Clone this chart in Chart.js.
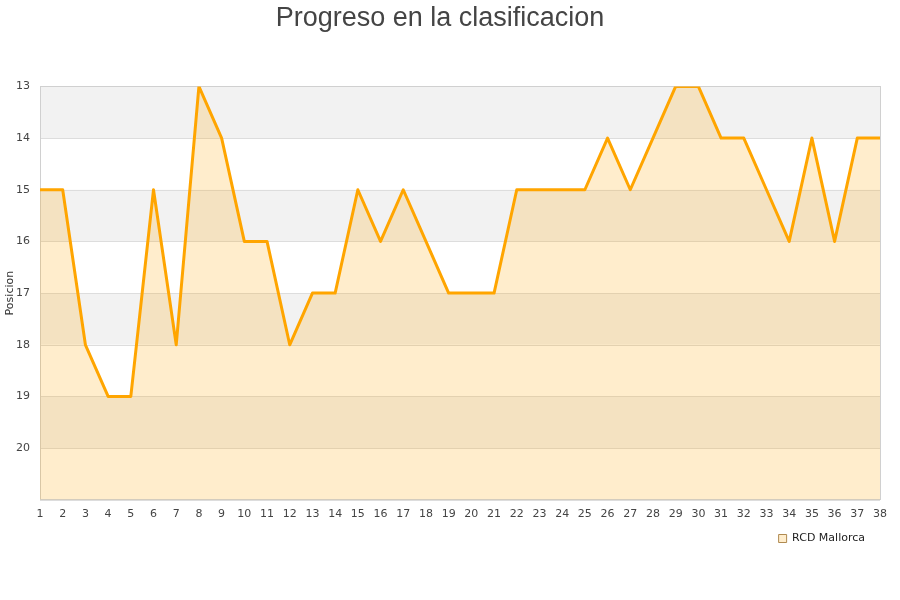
<!DOCTYPE html>
<html>
<head>
<meta charset="utf-8">
<script src="https://cdn.jsdelivr.net/npm/chart.js@4"></script>
<style>
html,body{margin:0;padding:0;background:#fff;}
#wrap{width:900px;height:600px;}
</style>
</head>
<body>
<div id="wrap"><canvas id="c" width="900" height="600"></canvas></div>
<script>
const rounds = ["1","2","3","4","5","6","7","8","9","10","11","12","13","14","15","16","17","18","19","20","21","22","23","24","25","26","27","28","29","30","31","32","33","34","35","36","37","38"];
const positions = [15,15,18,19,19,15,18,13,14,16,16,18,17,17,15,16,15,16,17,17,17,15,15,15,15,14,15,14,13,13,14,14,15,16,14,16,14,14];
const yMin = 13;
const yMax = 21;
const teamName = "RCD Mallorca";
const titleText = "Progreso en la clasificacion";
const yTitle = "Posicion";

const bandsPlugin = {
  id: 'bands',
  beforeDatasetsDraw(chart) {
    const {ctx, chartArea, scales} = chart;
    const y = scales.y;
    ctx.save();
    for (let v = yMin; v < yMax; v++) {
      const idx = v - yMin;
      const top = y.getPixelForValue(v);
      const bot = y.getPixelForValue(v + 1);
      ctx.fillStyle = (idx % 2 === 0) ? '#f2f2f2' : '#ffffff';
      ctx.fillRect(chartArea.left, top, chartArea.right - chartArea.left, bot - top);
    }
    ctx.strokeStyle = '#dddddd';
    ctx.lineWidth = 1;
    for (let v = yMin; v <= yMax; v++) {
      const py = Math.round(y.getPixelForValue(v)) + 0.5;
      ctx.beginPath();
      ctx.moveTo(chartArea.left, py);
      ctx.lineTo(chartArea.right, py);
      ctx.stroke();
    }
    ctx.strokeStyle = '#d0d0d0';
    ctx.strokeRect(Math.round(chartArea.left)+0.5, Math.round(chartArea.top)+0.5, Math.round(chartArea.right-chartArea.left), Math.round(chartArea.bottom-chartArea.top));
    ctx.restore();
  }
};

new Chart(document.getElementById('c'), {
  type: 'line',
  data: {
    labels: rounds,
    datasets: [{
      label: teamName,
      data: positions,
      borderColor: '#ffa500',
      backgroundColor: 'rgba(255,165,0,0.2)',
      borderWidth: 3,
      borderJoinStyle: 'round',
      pointRadius: 0,
      pointHoverRadius: 0,
      tension: 0,
      fill: {value: yMax}
    }]
  },
  options: {
    responsive: false,
    animation: false,
    devicePixelRatio: 1,
    layout: {padding: {left: 0, right: 20, top: 0, bottom: 46}},
    plugins: {
      title: {
        display: true,
        text: titleText,
        color: '#444444',
        font: {family: 'Liberation Sans', size: 27, weight: 'normal'},
        padding: {top: 2, bottom: 52}
      },
      legend: {
        position: 'bottom',
        align: 'end',
        labels: {
          boxWidth: 8,
          boxHeight: 8,
          padding: 15,
          color: '#222222',
          font: {family: 'DejaVu Sans', size: 11},
          generateLabels(chart) {
            return [{
              text: teamName,
              fillStyle: 'rgba(255,165,0,0.2)',
              strokeStyle: '#b08a50',
              lineWidth: 1,
              datasetIndex: 0,
              fontColor: '#222222'
            }];
          }
        }
      },
      tooltip: {enabled: false}
    },
    scales: {
      x: {
        offset: false,
        grid: {display: false, drawTicks: false},
        border: {display: false},
        afterFit(scale) { scale.height -= 11; },
        ticks: {
          color: '#444444',
          font: {family: 'DejaVu Sans', size: 11},
          padding: 8,
          maxRotation: 0,
          autoSkip: false
        }
      },
      y: {
        reverse: true,
        min: yMin,
        max: yMax,
        grid: {display: false, drawTicks: false},
        border: {display: false},
        afterFit(scale) { scale.width = 40; },
        title: {
          display: true,
          text: yTitle,
          color: '#333333',
          font: {family: 'DejaVu Sans', size: 11},
          padding: {top: 4, bottom: 0}
        },
        ticks: {
          stepSize: 1,
          color: '#444444',
          font: {family: 'DejaVu Sans', size: 11},
          padding: 10,
          callback(v) { return v === yMax ? '' : v; }
        }
      }
    }
  },
  plugins: [bandsPlugin]
});
</script>
</body>
</html>
